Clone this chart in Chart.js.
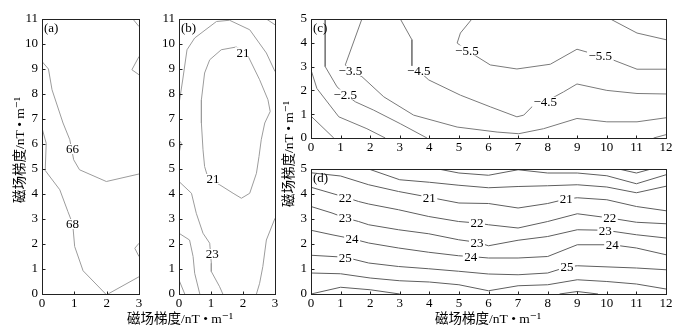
<!DOCTYPE html>
<html><head><meta charset="utf-8">
<script src="https://cdn.jsdelivr.net/npm/chart.js@4.4.0/dist/chart.umd.min.js"></script>
<style>
html,body{margin:0;padding:0;background:#fff;width:697px;height:336px;overflow:hidden}
canvas{position:absolute;left:0;top:0}
</style></head><body>
<canvas id="ca" width="697" height="336"></canvas>
<canvas id="cb" width="697" height="336"></canvas>
<canvas id="cc" width="697" height="336"></canvas>
<canvas id="cd" width="697" height="336"></canvas>
<script>
// ---------- tick values ----------
const xTicksAB = [0,1,2,3];
const yTicksAB = [0,1,2,3,4,5,6,7,8,9,10,11];
const xTicksCD = [0,1,2,3,4,5,6,7,8,9,10,11,12];
const yTicksCD = [0,1,2,3,4,5];

// ---------- panel (a) contours [x, y] ----------
const a66 = [[0,9.3],[0.2,9.0],[0.31,8.17],[0.65,6.84],[0.86,6.17],[0.98,5.37],[1.16,4.97],[1.99,4.5],[3,4.8]];
const a68 = [[0,6.64],[0.13,6.03],[0.1,4.94],[0.55,4.17],[0.8,3.3],[0.95,2.8],[1.01,1.9],[1.27,0.93],[1.97,0]];
const aR1 = [[2.04,0],[3,0.69]];
const aR2 = [[2.81,11],[3,10.7]];
const aR3 = [[3,9.5],[2.78,8.97],[3,8.77]];
const aR4 = [[3,2.03],[2.87,1.83],[3,1.5]];
const aLabels = [{x:0.94,y:5.8,t:'66'},{x:0.94,y:2.8,t:'68'}];

// ---------- panel (b) contours ----------
const bOuter = [[0,7.6],[0.12,8.6],[0.25,9.77],[0.49,10.24],[1.17,10.9],[1.58,10.95],[2.21,10.57],[2.73,9.64],[3,8.9]];
const bTopRight = [[2.73,11],[3,10.77]];
const b21 = [[0.8,8.84],[0.7,7.77],[0.7,6.84],[0.75,5.77],[0.8,5.1],[0.91,4.63],[1.27,4.37],[1.69,4.03],[1.95,3.83],[2.21,4.03],[2.42,4.83],[2.5,5.5],[2.57,6.17],[2.68,6.84],[2.85,7.3],[2.78,7.77],[2.52,8.57],[2.1,9.67],[1.79,9.88],[1.32,9.77],[0.96,9.37],[0.8,8.84]];
const bBump = [[0,6.17],[0.07,6.03],[0,5.63]];
const b23 = [[0,4.5],[0.39,4.03],[0.54,3.23],[0.75,2.43],[0.96,2.03],[1.01,1.23],[1.01,0.9],[1.27,0.29],[1.37,0]];
const bL2 = [[0,2.43],[0.33,2.16],[0.44,1.5],[0.49,0.83],[0.65,0]];
const bL3 = [[0,0.56],[0.18,0]];
const bRight = [[3,3.03],[2.73,2.16],[2.62,1.1],[2.52,0.43],[2.42,0]];
const bLabels = [{x:2.0,y:9.67,t:'21'},{x:1.06,y:4.6,t:'21'},{x:1.04,y:1.6,t:'23'}];

// ---------- panel (c) contours ----------
const c1 = [[0,0.92],[0.77,0]];
const c2 = [[0,2.86],[0.2,2.08],[0.94,0.89],[1.89,0.39],[2.51,0]];
const c25 = [[0.48,5],[0.48,3.0],[0.88,2.15],[1.16,1.83],[1.5,1.52],[2.12,1.17],[3.02,0.6],[3.92,0]];
const c35 = [[1.72,5],[1.16,3.07],[1.33,2.82],[1.72,2.58],[2.46,1.73],[3.47,0.96],[4.94,0.46],[6.29,0.25],[7.02,0.18],[7.86,0.39],[8.99,0.82],[10.0,0.68],[11.02,0.68],[12,0.85]];
const c45 = [[3.02,5],[3.41,4.13],[3.41,3.0],[3.64,2.82],[3.98,2.44],[5.05,1.8],[6.06,1.31],[6.96,0.89],[7.19,0.96],[7.58,1.45],[7.92,1.52],[8.54,1.94],[8.99,2.27],[10,2.0],[11.02,1.87],[12,1.85]];
const c55 = [[5.44,5],[5.05,4.41],[4.94,3.99],[5.27,3.68],[5.61,3.42],[6.06,3.07],[6.96,2.9],[8.09,3.1],[8.99,3.73],[9.78,3.45],[10.23,3.27],[11.02,2.89],[12,2.89]];
const c65 = [[10.12,5],[11.02,4.41],[12,4.13]];
const cBR = [[11.58,0],[12,0.14]];
const cLabels = [{x:1.33,y:2.82,t:'\u22123.5'},{x:1.16,y:1.83,t:'\u22122.5'},{x:3.64,y:2.82,t:'\u22124.5'},{x:7.92,y:1.52,t:'\u22124.5'},{x:5.27,y:3.68,t:'\u22125.5'},{x:9.78,y:3.45,t:'\u22125.5'}];

// ---------- panel (d) contours ----------
const dT1 = [[10.4,5],[11,4.84],[11.5,5]];
const dT2 = [[4.3,5],[5,4.84],[6,4.75],[7,4.97],[8,4.84],[9,4.84],[10,4.73],[11,4.41],[12,4.77]];
const dT3 = [[1.95,5],[3,4.57],[4,4.47],[5,4.35],[6,4.25],[7,4.3],[8,4.33],[9,4.37],[10,4.28],[11,4.05],[12,4.31]];
const d21 = [[0,4.85],[1,4.72],[1.95,4.37],[2.96,4.1],[4,3.87],[4.43,3.77],[5,3.64],[6,3.62],[7,3.44],[8,3.62],[8.63,3.8],[9,3.85],[10,3.77],[11,3.5],[12,3.33]];
const d22 = [[0,4.27],[1.16,3.87],[1.61,3.7],[1.95,3.6],[2.96,3.37],[3.98,3.1],[4.99,2.9],[5.61,2.84],[6,2.77],[7,2.64],[8,2.9],[9,3.21],[10.1,3.04],[11,2.87],[12,2.81]];
const d23 = [[0,3.5],[0.71,3.24],[1.16,3.04],[1.61,2.9],[1.95,2.77],[2.96,2.57],[3.98,2.41],[4.99,2.17],[5.61,2.07],[6,1.93],[7,2.15],[8,2.3],[9,2.57],[9.95,2.55],[11,2.37],[12,2.24]];
const d24 = [[0,2.55],[0.71,2.37],[1.39,2.21],[1.95,2.04],[2.96,1.84],[3.98,1.67],[4.99,1.53],[5.4,1.5],[6,1.44],[7,1.44],[8,1.5],[9,1.97],[10.18,1.97],[11,1.84],[12,1.57]];
const d25 = [[0,1.55],[1.16,1.47],[1.95,1.24],[2.96,1.1],[3.98,1.01],[4.99,0.91],[6,0.8],[7,0.77],[8,0.84],[8.65,1.08],[9,1.13],[11,1.04],[12,0.97]];
const d26 = [[0,0.84],[1,0.81],[2,0.64],[3,0.53],[4,0.48],[5,0.37],[6,0.13],[7,0.33],[8,0.37],[9,0.57],[10,0.5],[11,0.4],[12,0.2]];
const d27 = [[0,0],[1,0.27],[2,0.17],[3,0]];
const d28 = [[8.4,0],[9,0.1],[9.7,0]];
const dLabels = [{x:1.16,y:3.87,t:'22'},{x:4.0,y:3.87,t:'21'},{x:8.63,y:3.8,t:'21'},{x:1.16,y:3.04,t:'23'},{x:5.61,y:2.84,t:'22'},{x:10.1,y:3.04,t:'22'},{x:1.39,y:2.21,t:'24'},{x:5.61,y:2.07,t:'23'},{x:9.95,y:2.55,t:'23'},{x:1.16,y:1.47,t:'25'},{x:5.4,y:1.5,t:'24'},{x:10.18,y:1.97,t:'24'},{x:8.65,y:1.08,t:'25'}];

const axisTitle = '磁场梯度/nT \u2022 m\u207B\u00B9';

// ---------- drawing ----------
const SERIF = '"Liberation Serif","Times New Roman","DejaVu Serif","Noto Sans CJK SC",serif';
const XH = 20, YW = 30, W = 697, H = 336;

const decor = {
  id: 'decor',
  afterDatasetsDraw(chart, args, o) {
    const {ctx, chartArea: a, scales: {x, y}} = chart;
    ctx.save();
    ctx.font = '13px ' + SERIF;
    ctx.textAlign = 'center'; ctx.textBaseline = 'middle';
    (o.labels || []).forEach(l => {
      const px = x.getPixelForValue(l.x), py = y.getPixelForValue(l.y);
      const w = ctx.measureText(l.t).width;
      ctx.fillStyle = '#fff'; ctx.fillRect(px - w/2 - 1.5, py - 5, w + 3, 10);
      ctx.fillStyle = '#000'; ctx.fillText(l.t, px, py + 1);
    });
    ctx.strokeStyle = '#222'; ctx.lineWidth = 1;
    const L = Math.round(a.left) + 0.5, T = Math.round(a.top) + 0.5, R = Math.round(a.right) + 0.5, B = Math.round(a.bottom) + 0.5;
    ctx.strokeRect(L, T, R - L, B - T);
    ctx.beginPath();
    x.ticks.forEach(t => { const px = Math.round(x.getPixelForValue(t.value)) + 0.5; ctx.moveTo(px, B); ctx.lineTo(px, B - 3); });
    y.ticks.forEach(t => { const py = Math.round(y.getPixelForValue(t.value)) + 0.5; ctx.moveTo(L, py); ctx.lineTo(L + 3, py); });
    ctx.stroke();
    ctx.fillStyle = '#000'; ctx.textAlign = 'left'; ctx.textBaseline = 'top';
    ctx.fillText(o.tag, a.left + 2, a.top + 3);
    ctx.font = '13.5px ' + SERIF;
    (o.titles || []).forEach(tt => {
      ctx.save();
      ctx.translate(tt.cx, tt.cy);
      if (tt.rot) ctx.rotate(-Math.PI / 2);
      ctx.textAlign = 'center'; ctx.textBaseline = 'middle';
      ctx.fillText(axisTitle, 0, 0);
      ctx.restore();
    });
    ctx.restore();
  }
};

function panel(id, lines, labels, xt, yt, area, tag, color, titles) {
  new Chart(document.getElementById(id), {
    type: 'scatter',
    data: { datasets: lines.map(l => ({
      data: l.map(p => ({x: p[0], y: p[1]})),
      showLine: true, borderColor: color, borderWidth: 1, pointRadius: 0, fill: false, tension: 0
    })) },
    options: {
      responsive: false, animation: false, events: [],
      layout: { padding: { left: area.l - YW, right: W - area.r, top: area.t, bottom: H - area.b - XH } },
      plugins: { legend: {display: false}, tooltip: {enabled: false},
        decor: { labels, tag, titles } },
      scales: {
        x: { type: 'linear', min: xt[0], max: xt[xt.length - 1],
          afterFit: s => { s.height = XH; },
          afterBuildTicks: s => { s.ticks = xt.map(v => ({value: v})); },
          ticks: { padding: 2, maxRotation: 0, autoSkip: false, color: '#000', font: {family: SERIF, size: 13} },
          grid: {display: false, drawTicks: false}, border: {display: false} },
        y: { type: 'linear', min: yt[0], max: yt[yt.length - 1],
          afterFit: s => { s.width = YW; },
          afterBuildTicks: s => { s.ticks = yt.map(v => ({value: v})); },
          ticks: { padding: 4, autoSkip: false, color: '#000', font: {family: SERIF, size: 13} },
          grid: {display: false, drawTicks: false}, border: {display: false} }
      }
    },
    plugins: [decor]
  });
}

panel('ca', [a66, a68, aR1, aR2, aR3, aR4], aLabels, xTicksAB, yTicksAB,
  {l: 42, r: 139, t: 19, b: 294}, '(a)', '#9c9c9c',
  [{cx: 20, cy: 150, rot: true}, {cx: 180, cy: 319, rot: false}]);
panel('cb', [bOuter, bTopRight, b21, bBump, b23, bL2, bL3, bRight], bLabels, xTicksAB, yTicksAB,
  {l: 179, r: 275, t: 19, b: 294}, '(b)', '#9c9c9c', []);
panel('cc', [c1, c2, c25, c35, c45, c55, c65, cBR], cLabels, xTicksCD, yTicksCD,
  {l: 311, r: 666, t: 19, b: 138}, '(c)', '#7a7a7a',
  [{cx: 289, cy: 154, rot: true}]);
panel('cd', [dT1, dT2, dT3, d21, d22, d23, d24, d25, d26, d27, d28], dLabels, xTicksCD, yTicksCD,
  {l: 311, r: 666, t: 169, b: 294}, '(d)', '#5e5e5e',
  [{cx: 488, cy: 319, rot: false}]);
</script>
</body></html>
